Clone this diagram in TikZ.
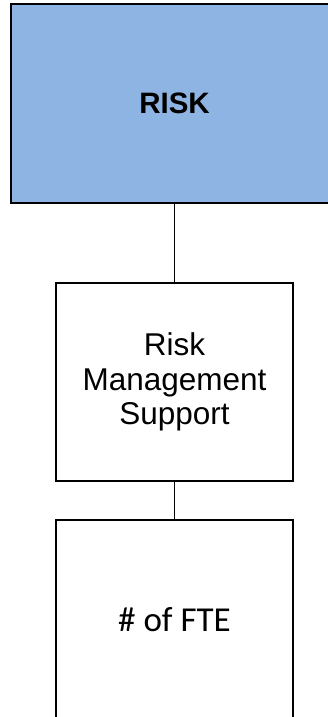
\documentclass[tikz,border=0pt]{standalone}
\usepackage{fontspec}
\setmainfont{Liberation Sans}
\newfontfamily\calfont{Carlito}
\definecolor{riskblue}{HTML}{8EB4E3}
\begin{document}
\begin{tikzpicture}[x=1pt,y=1pt,
  orgbox/.style={draw=black, line width=1.5pt, minimum width=237pt, minimum height=198pt,
    inner sep=0pt, align=center, font=\fontsize{31.5}{34.5}\selectfont},
  headbox/.style={draw=black, line width=2pt, fill=riskblue, minimum width=327pt,
    minimum height=198.5pt, inner sep=0pt, font=\fontsize{29.5}{34}\selectfont\bfseries},
  link/.style={draw=black, line width=1.5pt}]
  \useasboundingbox (0,0) rectangle (328,-717);
  \clip (0,0) rectangle (328,-717);
  % head of the branch
  \node[headbox] (risk) at (174.5,-103.75) {RISK};
  % team and headcount
  \node[orgbox] (rms) at (174.5,-382) {Risk\\Management\\Support};
  \node[orgbox, minimum height=202pt, text depth=0pt,
        font=\calfont\fontsize{35}{40}\selectfont] (fte) at (174.5,-621) {\raisebox{3pt}{\# of FTE}};
  % connectors
  \draw[link] (risk.south) -- (rms.north);
  \draw[link] (rms.south) -- (fte.north);
\end{tikzpicture}
\end{document}
